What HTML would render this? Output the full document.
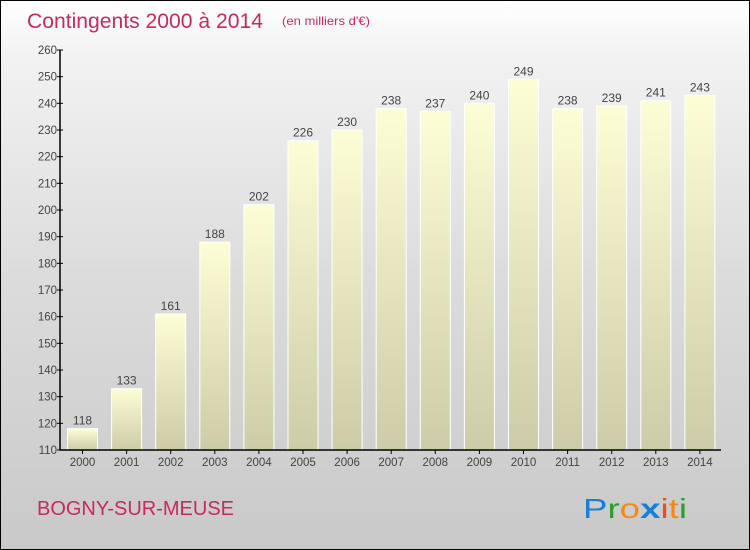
<!DOCTYPE html>
<html><head><meta charset="utf-8"><style>
body{margin:0}
#c{position:relative;width:748px;height:548px;border:1px solid #000;background:linear-gradient(#fff,#f2f2f2 10%,#dcdcdc 50%,#c9c9c9);overflow:hidden;font-family:"Liberation Sans",sans-serif}
</style></head><body>
<div id="c">
<svg id="s" width="748" height="548">
<defs><linearGradient id="g" x1="0" y1="0" x2="0" y2="1"><stop offset="0" stop-color="#fdfdd6"/><stop offset="1" stop-color="#cdcca8"/></linearGradient></defs>
<text x="26" y="27" font-size="21" fill="#c8295e" textLength="236" lengthAdjust="spacingAndGlyphs">Contingents 2000 à 2014</text>
<text x="281" y="24" font-size="12" fill="#c8295e" textLength="88" lengthAdjust="spacingAndGlyphs">(en milliers d'€)</text>
<text x="36" y="514" font-size="20" fill="#c8295e" textLength="197" lengthAdjust="spacingAndGlyphs">BOGNY-SUR-MEUSE</text>
<g font-size="28" font-family="Liberation Sans,sans-serif">
<text x="582" y="517" textLength="104" lengthAdjust="spacingAndGlyphs"><tspan fill="#1a7fd6">P</tspan><tspan fill="#2aa02a">r</tspan><tspan fill="#f08a1c">o</tspan><tspan fill="#1a7fd6" font-weight="bold">x</tspan><tspan fill="#e8501c">i</tspan><tspan fill="#f08a1c">t</tspan><tspan fill="#2aa02a">i</tspan></text></g>
<g id="bars"></g><g id="axes"></g>
</svg></div>
<script>
const years=["2000","2001","2002","2003","2004","2005","2006","2007","2008","2009","2010","2011","2012","2013","2014"];
const values=[118,133,161,188,202,226,230,238,237,240,249,238,239,241,243];
const yTicks=[110,120,130,140,150,160,170,180,190,200,210,220,230,240,250,260];
const NS="http://www.w3.org/2000/svg";
const y0=449,yTop=49,vMin=110,vMax=260,x0=59,step=44.1,bw=30;
const Y=v=>y0-(v-vMin)/(vMax-vMin)*(y0-yTop);
const X=i=>x0+22.5+i*step;
function mk(t,a,p){const e=document.createElementNS(NS,t);for(const k in a)e.setAttribute(k,a[k]);p.appendChild(e);return e;}
const bars=document.getElementById('bars'),axes=document.getElementById('axes');
values.forEach((v,i)=>{
 const r=mk('rect',{x:X(i)-bw/2,y:Y(v),width:bw,height:y0-Y(v),fill:'url(#g)',stroke:'#fff','stroke-width':1},bars);
 
 
 const t=mk('text',{x:X(i),y:Y(v)-4,'font-size':12,fill:'#444','text-anchor':'middle'},bars);t.textContent=v;
 
 
 const xl=mk('text',{x:X(i),y:y0+16,'font-size':11.5,fill:'#444','text-anchor':'middle'},axes);xl.textContent=years[i];
 
 
 const tk=mk('line',{x1:X(i),x2:X(i),y1:y0,y2:y0+4,stroke:'#000'},axes);
 
 
});
yTicks.forEach(v=>{
 const l=mk('line',{x1:x0-3,x2:x0+3,y1:Y(v),y2:Y(v),stroke:'#000'},axes);
 
 
 const t=mk('text',{x:x0-3,y:Y(v)+4,'font-size':11.5,fill:'#444','text-anchor':'end'},axes);t.textContent=v;
 
 
});
const ya=mk('line',{x1:x0,x2:x0,y1:yTop,y2:y0,stroke:'#000','stroke-width':1.5},axes);


const xa=mk('line',{x1:x0,x2:720,y1:y0,y2:y0,stroke:'#000','stroke-width':1.5},axes);


</script>
</body></html>
